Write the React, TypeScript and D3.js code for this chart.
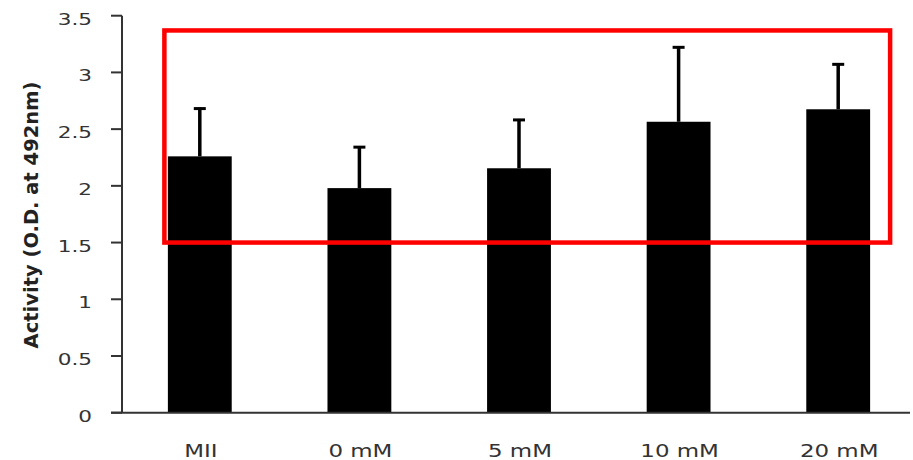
import React, { useEffect, useRef } from 'react';
import * as d3 from 'd3';

const categories = ['MII', '0 mM', '5 mM', '10 mM', '20 mM'];
const means = [2.26, 1.98, 2.155, 2.565, 2.675];
const errors = [0.43, 0.37, 0.435, 0.665, 0.405];
const yTicks = [0, 0.5, 1, 1.5, 2, 2.5, 3, 3.5];
// highlighted region drawn over the chart (value range)
const highlight = { from: 1.5, to: 3.37 };

const App = () => {
  const ref = useRef<SVGSVGElement>(null);

  useEffect(() => {
    const svg = d3.select(ref.current);
    svg.selectAll('*').remove();

    const width = 913;
    const height = 460;
    const axisX = 122;
    const stretch = 1.35; // the original picture is widened horizontally

    const x = d3.scaleBand().domain(categories).range([120, 918])
      .paddingInner(0.6).paddingOuter(0.3);
    const y = d3.scaleLinear().domain([0, 3.5]).range([412.7, 15.7]);

    // bars
    svg.append('g').selectAll('rect')
      .data(categories)
      .join('rect')
      .attr('x', d => x(d)!)
      .attr('width', x.bandwidth())
      .attr('y', (d, i) => y(means[i]))
      .attr('height', (d, i) => y(0) - y(means[i]))
      .attr('fill', '#000');

    // error bars (upper only)
    const eb = svg.append('g');
    categories.forEach((c, i) => {
      const cx = x(c)! + x.bandwidth() / 2;
      eb.append('line')
        .attr('x1', cx).attr('x2', cx)
        .attr('y1', y(means[i])).attr('y2', y(means[i] + errors[i]))
        .attr('stroke', '#000').attr('stroke-width', 3.5);
      eb.append('line')
        .attr('x1', cx - 6).attr('x2', cx + 6)
        .attr('y1', y(means[i] + errors[i]) + 1).attr('y2', y(means[i] + errors[i]) + 1)
        .attr('stroke', '#000').attr('stroke-width', 3);
    });

    // axes
    const ax = svg.append('g');
    ax.append('line')
      .attr('x1', axisX).attr('x2', axisX)
      .attr('y1', y(3.5)).attr('y2', y(0))
      .attr('stroke', '#333').attr('stroke-width', 2);
    ax.append('line')
      .attr('x1', 111).attr('x2', 910)
      .attr('y1', y(0)).attr('y2', y(0))
      .attr('stroke', '#333').attr('stroke-width', 2);
    yTicks.forEach(t => {
      ax.append('line')
        .attr('x1', 111).attr('x2', axisX)
        .attr('y1', y(t)).attr('y2', y(t))
        .attr('stroke', '#333').attr('stroke-width', 2);
      ax.append('text')
        .attr('transform', `translate(92,${y(t) + 9}) scale(${stretch},1)`)
        .attr('text-anchor', 'end')
        .attr('font-family', 'DejaVu Sans')
        .attr('font-size', 16)
        .attr('fill', '#333')
        .text(String(t));
    });

    // category labels
    categories.forEach(c => {
      ax.append('text')
        .attr('transform', `translate(${x(c)! + x.bandwidth() / 2 + 1},457) scale(${stretch},1)`)
        .attr('text-anchor', 'middle')
        .attr('font-family', 'DejaVu Sans')
        .attr('font-size', 17)
        .attr('fill', '#333')
        .text(c);
    });

    // y title
    svg.append('text')
      .attr('transform', 'translate(31,215) rotate(-90)')
      .attr('text-anchor', 'middle')
      .attr('dominant-baseline', 'central')
      .attr('font-family', 'DejaVu Sans')
      .attr('font-weight', 'bold')
      .attr('font-size', 19.5)
      .attr('fill', '#222')
      .text('Activity (O.D. at 492nm)');

    // red highlight box
    const left = x('MII')! - 3.5;
    const right = x('20 mM')! + x.bandwidth() + 20;
    svg.append('rect')
      .attr('x', left)
      .attr('y', y(highlight.to))
      .attr('width', right - left)
      .attr('height', y(highlight.from) - y(highlight.to))
      .attr('fill', 'none')
      .attr('stroke', '#ff0000')
      .attr('stroke-width', 4.5);

    svg.attr('width', width).attr('height', height);
  }, []);

  return (
    <svg ref={ref} width={913} height={460}
      style={{ position: 'absolute', left: 0, top: 0, background: '#fff' }} />
  );
};

export default App;
